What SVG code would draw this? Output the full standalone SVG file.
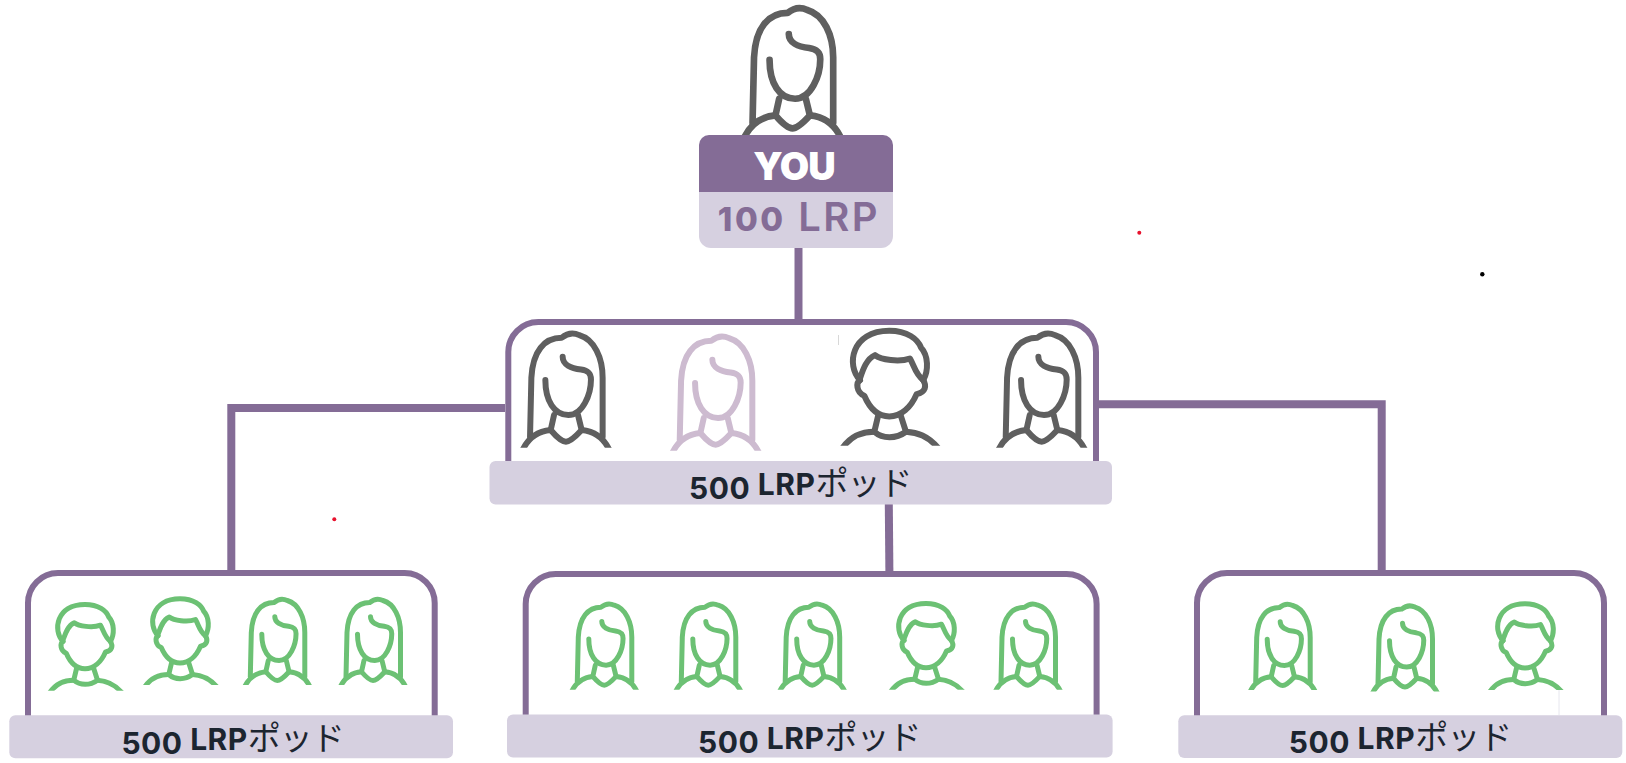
<svg xmlns="http://www.w3.org/2000/svg" xmlns:xlink="http://www.w3.org/1999/xlink" width="1626" height="763" viewBox="0 0 1626 763">
<style>
.ic{fill:none;stroke-linecap:round;stroke-linejoin:round}
.grey{stroke:#5f5f5f;stroke-width:18}.green{stroke:#6cc174;stroke-width:20}.pale{stroke:#cdbbd0;stroke-width:18}
.conn{fill:none;stroke:#846c96;stroke-width:8}
.panel{fill:none;stroke:#846c96;stroke-width:6}
.lab{fill:#d6d0e0}
.t{font-family:"Inter","Liberation Sans","Noto Sans CJK JP",sans-serif;font-weight:700;font-size:30px;letter-spacing:.5px;fill:#1c2530;text-anchor:middle}
.k{font-family:"Noto Sans CJK JP",sans-serif;font-weight:400;font-size:33px;letter-spacing:-1px}
</style>
<defs>
<clipPath id="cut"><rect x="-170" y="-380" width="340" height="380"/></clipPath>
<g id="woman" class="ic" clip-path="url(#cut)">
<path d="M-108,-33 L-104,-210 C-100,-290 -65,-330 -13,-330 C5,-345 25,-345 40,-338 C85,-325 110,-270 110,-210 L110,-33"/>
<path d="M-62,-203 C-62,-140 -35,-98 7,-98 C50,-98 75,-160 75,-205 C75,-225 65,-232 45,-235 C15,-238 -10,-250 -10,-273"/>
<path d="M-36,-98 L-46,-53 C-35,-40 -15,-18 0,-18 C15,-18 35,-40 47,-53 L36,-98"/>
<path d="M-130,6 C-110,-35 -80,-50 -46,-53 M47,-53 C80,-50 110,-35 130,6"/>
</g>
<g id="man" class="ic" clip-path="url(#cut)">
<path d="M-88,-197 C-130,-240 -115,-345 0,-345 C55,-345 85,-320 95,-295 C118,-270 118,-225 102,-197"/>
<path d="M-88,-202 C-80,-225 -70,-260 -43,-272 C-25,-258 30,-250 62,-262 C75,-240 78,-215 102,-197"/>
<path d="M-88,-197 C-100,-190 -100,-160 -75,-150 C-60,-115 -35,-88 0,-88 C35,-88 65,-115 82,-155 C110,-160 112,-180 102,-197"/>
<path d="M-33,-92 L-45,-42 C-20,-20 20,-20 50,-42 L34,-92"/>
<path d="M-140,6 C-115,-30 -80,-42 -45,-42 M50,-42 C85,-40 115,-30 146,6"/>
</g>
</defs>
<rect width="1626" height="763" fill="#fff"/>
<g id="connectors">
<path class="conn" d="M798.5,248 V320"/>
<path class="conn" d="M505,408 H231.3 V572"/>
<path class="conn" d="M1099,404.3 H1381.7 V572"/>
<path class="conn" d="M888.8,504 L889.4,573"/>
</g>
<g id="you">
<use href="#woman" class="grey" transform="translate(792.5,135) scale(.37)"/>
<path fill="#d6d0e0" d="M699,192 H893 V236 a12,12 0 0 1 -12,12 H711 a12,12 0 0 1 -12,-12 Z"/>
<path fill="#846c96" d="M699,192 V145 a10,10 0 0 1 10,-10 H883 a10,10 0 0 1 10,10 V192 Z"/>
<text x="794" y="180" style="font-family:Inter,'Liberation Sans',sans-serif;font-weight:900;font-size:38px;letter-spacing:-1px;fill:#fff;text-anchor:middle">YOU</text>
<text x="799" y="230.5" style="font-family:Inter,'Liberation Sans',sans-serif;font-weight:600;font-size:40px;letter-spacing:2.5px;fill:#846c96;text-anchor:middle"><tspan font-size="33" font-weight="800">100</tspan> LRP</text>
</g>
<g id="pod-top">
<path class="panel" d="M508.3,461 V352 a30,30 0 0 1 30,-30 H1066 a30,30 0 0 1 30,30 V461"/>
<use href="#woman" class="grey" transform="translate(566,447.7) scale(.333)"/>
<use href="#woman" class="pale" transform="translate(715.7,450.7) scale(.333)"/>
<use href="#man" class="grey" transform="translate(889.3,445.7) scale(.333)"/>
<use href="#woman" class="grey" transform="translate(1041.7,447.7) scale(.333)"/>
<path d="M838.5,335 V345" stroke="#d8d8d8" stroke-width="1" fill="none"/>
<rect class="lab" x="489.5" y="461" width="622.5" height="43.5" rx="6"/>
<text class="t" x="800.3" y="494.5"><tspan dy="4">500</tspan><tspan dy="-4"> LRP</tspan><tspan class="k">ポッド</tspan></text>
</g>
<g id="pod-left">
<path class="panel" d="M28,716 V603 a30,30 0 0 1 30,-30 H404.7 a30,30 0 0 1 30,30 V716"/>
<use href="#man" class="green" transform="translate(85,690.7) scale(.25)"/>
<use href="#man" class="green" transform="translate(180,685) scale(.25)"/>
<use href="#woman" class="green" transform="translate(277.3,685) scale(.25)"/>
<use href="#woman" class="green" transform="translate(373,685) scale(.25)"/>
<rect class="lab" x="9.3" y="715.3" width="443.7" height="43" rx="6"/>
<text class="t" x="232.6" y="749.5"><tspan dy="4">500</tspan><tspan dy="-4"> LRP</tspan><tspan class="k">ポッド</tspan></text>
</g>
<g id="pod-center">
<path class="panel" d="M525.7,716 V604 a30,30 0 0 1 30,-30 H1066.6 a30,30 0 0 1 30,30 V716"/>
<use href="#woman" class="green" transform="translate(604.3,689.7) scale(.25)"/>
<use href="#woman" class="green" transform="translate(708.3,689.7) scale(.25)"/>
<use href="#woman" class="green" transform="translate(812.2,689.7) scale(.25)"/>
<use href="#man" class="green" transform="translate(926,689.7) scale(.25)"/>
<use href="#woman" class="green" transform="translate(1028,689.7) scale(.25)"/>
<rect class="lab" x="507" y="714.5" width="605.6" height="43" rx="6"/>
<text class="t" x="809.3" y="748.5"><tspan dy="4">500</tspan><tspan dy="-4"> LRP</tspan><tspan class="k">ポッド</tspan></text>
</g>
<g id="pod-right">
<path class="panel" d="M1197,716 V603 a30,30 0 0 1 30,-30 H1574 a30,30 0 0 1 30,30 V716"/>
<use href="#woman" class="green" transform="translate(1282.7,690) scale(.25)"/>
<use href="#woman" class="green" transform="translate(1405,691.6) scale(.25)"/>
<use href="#man" class="green" transform="translate(1525,690) scale(.25)"/>
<path d="M1559,690 V715" stroke="#e6e6ee" stroke-width="1" fill="none"/>
<rect class="lab" x="1178.3" y="715.3" width="444" height="42.7" rx="6"/>
<text class="t" x="1400" y="749"><tspan dy="4">500</tspan><tspan dy="-4"> LRP</tspan><tspan class="k">ポッド</tspan></text>
</g>
<circle cx="1139.3" cy="232.7" r="2" fill="#e8112d"/>
<circle cx="1482.3" cy="274.3" r="2.2" fill="#000"/>
<circle cx="334.3" cy="519.3" r="2" fill="#e8112d"/>
</svg>
